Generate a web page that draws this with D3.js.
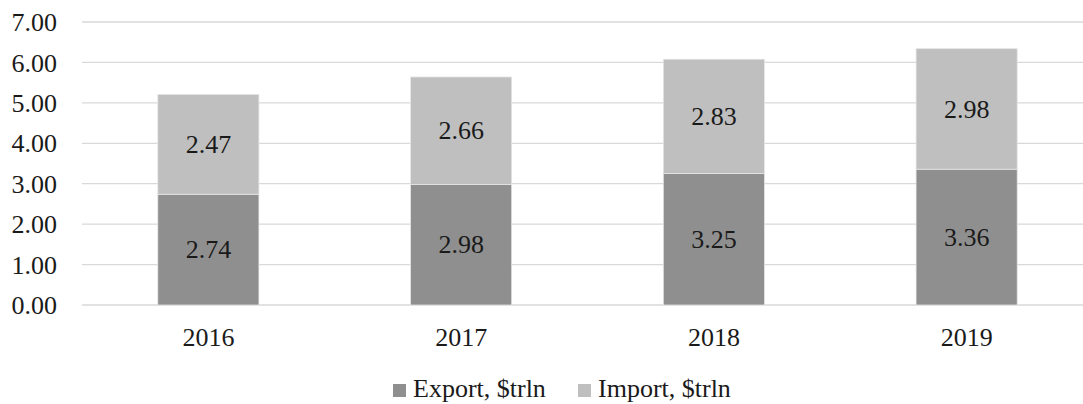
<!DOCTYPE html>
<html><head><meta charset="utf-8">
<script src="https://cdn.jsdelivr.net/npm/d3@7"></script>
<style>body{margin:0;background:#fff;}svg{display:block;font-family:"Liberation Serif","Times New Roman",serif;}</style>
</head><body>
<svg id="c" width="1083" height="404"></svg>
<script>
const categories = ["2016","2017","2018","2019"];
const exportVals = [2.74, 2.98, 3.25, 3.36];
const importVals = [2.47, 2.66, 2.83, 2.98];
const yTicks = [0,1,2,3,4,5,6,7];
const seriesNames = ["Export, $trln","Import, $trln"];
const colors = ["#8f8f8f","#bfbfbf"];
const FS = 26;

const svg = d3.select("#c");
const x = d3.scaleBand().domain(categories).range([82,1093]).paddingInner(0.6).paddingOuter(0.3);
const y = d3.scaleLinear().domain([0,7]).range([305,22]);

// gridlines
svg.append("g").selectAll("line").data(yTicks).join("line")
  .attr("x1",82).attr("x2",1083)
  .attr("y1",d=>y(d)).attr("y2",d=>y(d))
  .attr("stroke","#d9d9d9").attr("stroke-width",1.3);

// y axis labels
const yAxis = d3.axisLeft(y).tickValues(yTicks).tickFormat(d3.format(".2f")).tickSize(0).tickPadding(0);
const ga = svg.append("g").attr("transform","translate(57,0)").call(yAxis);
ga.select(".domain").remove();
ga.selectAll("text").attr("font-size",FS).attr("fill","#1a1a1a").attr("font-family","Liberation Serif").attr("dy","0.33em");

// x axis labels
const xAxis = d3.axisBottom(x).tickSize(0).tickPadding(0);
const gx = svg.append("g").attr("transform","translate(0,337)").call(xAxis);
gx.select(".domain").remove();
gx.selectAll("text").attr("font-size",FS).attr("fill","#1a1a1a").attr("font-family","Liberation Serif").attr("dy","0.33em");

const stack = categories.map((c,i)=>({c, ex:exportVals[i], im:importVals[i]}));
const segs = [];
stack.forEach(d=>{
  segs.push({c:d.c, y0:0, y1:d.ex, v:d.ex, s:0});
  segs.push({c:d.c, y0:d.ex, y1:d.ex+d.im, v:d.im, s:1});
});
const g = svg.append("g");
g.selectAll("rect").data(segs).join("rect")
  .attr("x",d=>x(d.c)).attr("width",x.bandwidth())
  .attr("y",d=>y(d.y1)).attr("height",d=>y(d.y0)-y(d.y1))
  .attr("fill",d=>colors[d.s]).attr("stroke","#e6e6e6").attr("stroke-width",0.75);
g.selectAll("text").data(segs).join("text")
  .attr("x",d=>x(d.c)+x.bandwidth()/2).attr("y",d=>y((d.y0+d.y1)/2))
  .attr("dy","0.33em").attr("text-anchor","middle")
  .attr("font-size",FS).attr("fill","#1a1a1a").text(d=>d.v.toFixed(2));

// legend
const leg = svg.append("g").attr("transform","translate(393,397)");
const legX = [0, 185];
seriesNames.forEach((n,i)=>{
  leg.append("rect").attr("x",legX[i]).attr("y",-13).attr("width",13).attr("height",13).attr("fill",colors[i]);
  leg.append("text").attr("x",legX[i]+20).attr("y",0)
    .attr("font-size",FS).attr("fill","#1a1a1a").text(n);
});
</script>
</body></html>
